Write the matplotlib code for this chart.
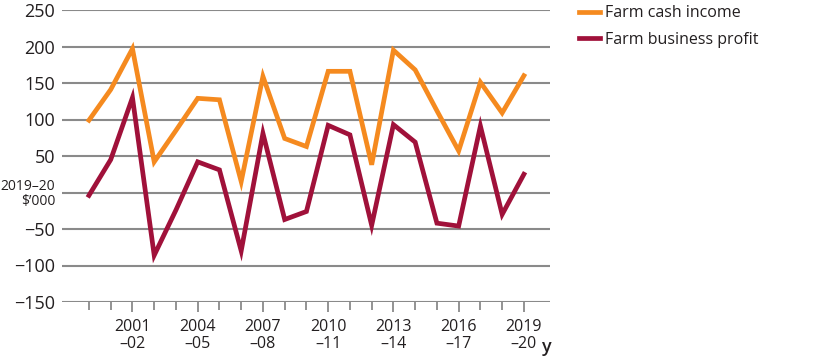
import numpy as np
import matplotlib.pyplot as plt

plt.rcParams['font.family'] = ['Open Sans', 'DejaVu Sans']

# financial years 1999-00 .. 2019-20
years = ['1999–00', '2000–01', '2001–02', '2002–03', '2003–04', '2004–05', '2005–06',
         '2006–07', '2007–08', '2008–09', '2009–10', '2010–11', '2011–12', '2012–13',
         '2013–14', '2014–15', '2015–16', '2016–17', '2017–18', '2018–19', '2019–20']

cash_income = [99, 141, 197, 42, 85, 129, 127, 15, 159, 74, 63, 166, 166, 38,
               195, 168, 112, 57, 151, 109, 160]
business_profit = [-4, 45, 130, -86, -24, 42, 31, -80, 81, -37, -26, 92, 79, -45,
                   93, 69, -42, -46, 91, -30, 25]

labelled = ['2001\n–02', '2004\n–05', '2007\n–08', '2010\n–11', '2013\n–14', '2016\n–17', '2019\n–20']
yticks = [-150, -100, -50, 0, 50, 100, 150, 200, 250]

orange = '#F58A1F'
maroon = '#A0113A'
grid_col = '#8a8a8a'
text_col = '#231f20'

fig = plt.figure(figsize=(8.15, 3.56), dpi=100)
ax = fig.add_axes([62/815, 54/356, 488/815, 292/356])

x = np.arange(len(years))
ax.plot(x, cash_income, color=orange, lw=3.4, solid_joinstyle='miter', label='Farm cash income', zorder=3)
ax.plot(x, business_profit, color=maroon, lw=3.4, solid_joinstyle='miter', label='Farm business profit', zorder=3)

ax.set_ylim(-150, 250)
ax.set_xlim(-1.24, 21.2)

for v in yticks:
    ax.axhline(v, color=grid_col, lw=1.5, zorder=1)

ax.set_yticks(yticks)
ylabels = [('−%d' % -v if v < 0 else str(v)) for v in yticks]
ylabels[3] = '2019–20\n$’000'
ax.set_yticklabels(ylabels)
ax.tick_params(axis='y', length=0, pad=5, labelsize=13, labelcolor=text_col)
for lab in ax.get_yticklabels():
    if '$' in lab.get_text():
        lab.set_fontsize(10)
        lab.set_linespacing(0.95)

ax.set_xticks(x[2::3])
ax.set_xticklabels(labelled)
ax.set_xticks(x, minor=True)
ax.tick_params(axis='x', which='major', length=7, width=1.3, color=grid_col,
               labelsize=11.5, labelcolor=text_col, pad=5)
ax.tick_params(axis='x', which='minor', length=5.5, width=1.3, color=grid_col)
for lab in ax.get_xticklabels():
    lab.set_linespacing(1.15)

# unit marker after the last year label
ax.text(20.82, -200, 'y', ha='left', va='top', fontsize=13,
        fontweight='semibold', color=text_col)

for s in ax.spines.values():
    s.set_visible(False)

ax.legend(loc='upper left', bbox_to_anchor=(1.03, 1.065), frameon=False, fontsize=11.5,
          handlelength=1.3, handletextpad=0.3, labelspacing=0.65, labelcolor=text_col)

fig.savefig('out.png', dpi=100)
